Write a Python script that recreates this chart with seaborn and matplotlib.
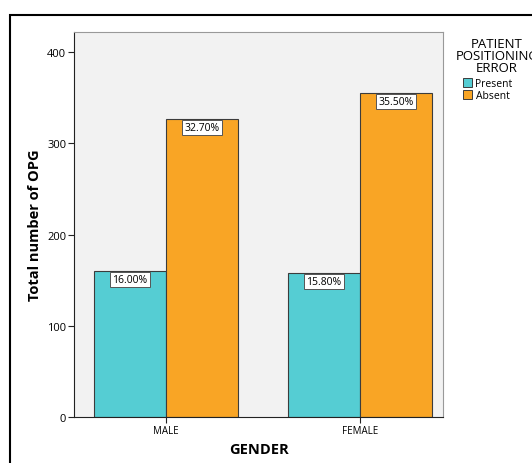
import seaborn as sb
from matplotlib import pyplot as plt
from matplotlib.patches import Rectangle
import pandas as pd

# chart values
genders = ['MALE', 'FEMALE']
errors = ['Present', 'Absent']
present = [160, 158]
absent = [327, 355]
pct_present = ['16.00%', '15.80%']
pct_absent = ['32.70%', '35.50%']

df = pd.DataFrame({
    'GENDER': genders * 2,
    'error': [errors[0]] * 2 + [errors[1]] * 2,
    'count': present + absent,
    'label': pct_present + pct_absent,
})

plt.rcParams['font.family'] = ['Open Sans', 'DejaVu Sans']
fig = plt.figure(figsize=(5.32, 4.64), dpi=100)
ax = fig.add_axes([0.139, 0.099, 0.694, 0.830])

colors = {'Present': '#55CDD3', 'Absent': '#F9A525'}
sb.barplot(data=df, x='GENDER', y='count', hue='error', hue_order=errors,
           order=genders, palette=colors, width=0.742, ax=ax, saturation=1,
           edgecolor='#3c3c3c', linewidth=0.8, legend=False)

# percent labels under the top of each bar
for cont, labs in zip(ax.containers, [pct_present, pct_absent]):
    for bar, lab in zip(cont, labs):
        ax.annotate(lab, (bar.get_x() + bar.get_width() / 2, bar.get_height()),
                    xytext=(0, -2.2), textcoords='offset points',
                    ha='center', va='top', fontsize=7.5,
                    bbox=dict(boxstyle='square,pad=0.2', fc='white', ec='#555555', lw=0.7))

ax.set_facecolor('#f2f2f2')
ax.set_xlim(-0.474, 1.428)
ax.set_ylim(0, 422)
ax.set_yticks([0, 100, 200, 300, 400])
ax.tick_params(axis='both', length=4.5, width=0.8, color='#222222', pad=1)
ax.tick_params(axis='y', labelsize=8)
ax.tick_params(axis='x', labelsize=7, length=4, pad=2)
for s in ax.spines.values():
    s.set_color('#999999')
    s.set_linewidth(0.8)
ax.spines['left'].set_color('#222222')
ax.spines['bottom'].set_color('#222222')
ax.set_xlabel('GENDER', fontsize=10.5, fontweight='bold', labelpad=4)
ax.set_ylabel('Total number of OPG', fontsize=10.5, fontweight='bold', labelpad=4)

# legend outside on the right: title as separate centred text
fig.text(497 / 532, 1 - 38 / 464, 'PATIENT\nPOSITIONING\nERROR', ha='center', va='top',
         fontsize=9.5, linespacing=0.9, multialignment='center')
handles = [Rectangle((0, 0), 1, 1, fc=colors[e], ec='#3c3c3c', lw=0.7) for e in errors]
fig.legend(handles, errors, loc='upper left', bbox_to_anchor=(463 / 532, 1 - 79 / 464),
           frameon=False, fontsize=7.5, handlelength=0.85, handleheight=0.9,
           handletextpad=0.35, labelspacing=0.1, borderpad=0, borderaxespad=0)

# outer frame
fig.patches.append(Rectangle((10 / 532, -0.01), 1.0, 1 - 16 / 464 + 0.01,
                             transform=fig.transFigure, fill=False,
                             ec='black', lw=1.5))

fig.savefig('out.png', dpi=100)
